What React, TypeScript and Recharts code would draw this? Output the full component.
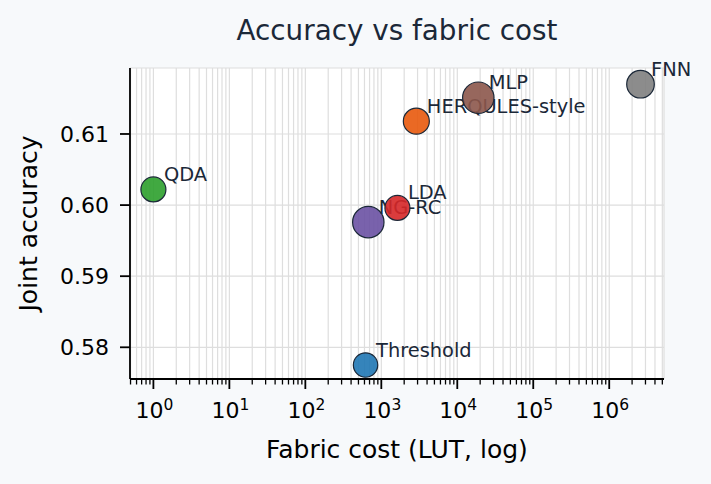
import { ScatterChart, Scatter, XAxis, YAxis, CartesianGrid, Label } from "recharts"

const MODELS = ["Threshold", "QDA", "NG-RC", "LDA", "HERQULES-style", "MLP", "FNN"]
const LUT_COST = [620, 1, 674, 1630, 2890, 18900, 2580000]
const JOINT_ACC = [0.5775, 0.6022, 0.5976, 0.5996, 0.6118, 0.6151, 0.617]

const COLORS = ["#1f77b4", "#2ca02c", "#6a51a3", "#d62728", "#e8590c", "#8c564b", "#7f7f7f"]
const RADIUS = [12.2, 12.5, 15.7, 12.5, 13, 15.7, 13.8]

const MAJOR_X = [1, 10, 100, 1000, 10000, 100000, 1000000]
const X_DOMAIN = [0.492, 5.26e6]
const MINOR_X: number[] = []
;[0.1, ...MAJOR_X].forEach((d) => {
  for (let m = 2; m <= 9; m++) {
    const v = d * m
    if (v > X_DOMAIN[0] && v < X_DOMAIN[1]) MINOR_X.push(v)
  }
})
const Y_TICKS = [0.58, 0.59, 0.6, 0.61]

const INK = "#1b2838"
const FONT = "DejaVu Sans"

const points = MODELS.map((name, i) => ({ name, cost: LUT_COST[i], acc: JOINT_ACC[i] }))

const XTick = (props: any) => {
  const { x, y, payload } = props
  const v = payload.value
  const exp = Math.round(Math.log10(v))
  const major = MAJOR_X.includes(v)
  if (!major) {
    return <line x1={x} x2={x} y1={y} y2={y + 5.5} stroke="#000" strokeWidth={1.3} />
  }
  return (
    <g>
      <line x1={x} x2={x} y1={y} y2={y + 10} stroke="#000" strokeWidth={1.8} />
      <text x={x + 1} y={y + 39} textAnchor="middle" fontFamily={FONT} fontSize={22} fill="#000">
        <tspan>10</tspan>
        <tspan dy={-8} fontSize={15.5}>{exp}</tspan>
      </text>
    </g>
  )
}

const YTick = (props: any) => {
  const { x, y, payload } = props
  return (
    <g>
      <line x1={x - 10} x2={x} y1={y} y2={y} stroke="#000" strokeWidth={1.8} />
      <text x={x - 21} y={y + 7.8} textAnchor="end" fontFamily={FONT} fontSize={22} fill="#000">
        {payload.value.toFixed(2)}
      </text>
    </g>
  )
}

const makeShape = (i: number) => (props: any) => {
  const { cx, cy, payload } = props
  return (
    <g>
      <circle cx={cx} cy={cy} r={RADIUS[i]} fill={COLORS[i]} fillOpacity={0.9} stroke={INK} strokeWidth={1.2} />
      <text x={cx + 10.5} y={cy - 8.5} fontFamily={FONT} fontSize={19.4} fill={INK}>
        {payload.name}
      </text>
    </g>
  )
}

export default function App() {
  return (
    <div style={{ position: "absolute", left: 0, top: 0, width: 711, height: 484, background: "#f7f9fb" }}>
      <div
        style={{
          position: "absolute",
          left: 0,
          width: 794,
          top: 13,
          textAlign: "center",
          fontFamily: FONT,
          fontSize: 27.8,
          color: INK,
          lineHeight: "36px",
        }}
      >
        Accuracy vs fabric cost
      </div>
      <ScatterChart
        width={711}
        height={484}
        margin={{ top: 68, right: 47, bottom: 0, left: 0 }}
        style={{ overflow: "visible" }}
      >
        <CartesianGrid fill="#ffffff" stroke="#dedede" strokeWidth={1.2} />
        <XAxis
          type="number"
          dataKey="cost"
          scale="log"
          domain={X_DOMAIN}
          ticks={[...MAJOR_X, ...MINOR_X].sort((a, b) => a - b)}
          interval={0}
          height={105}
          tickSize={0}
          tickMargin={0}
          tickLine={false}
          axisLine={{ stroke: "#000", strokeWidth: 1.8 }}
          tick={<XTick />}
        >
          <Label
            value="Fabric cost (LUT, log)"
            position="insideBottom"
            offset={26}
            style={{ fontFamily: FONT, fontSize: 25, fill: "#000" }}
          />
        </XAxis>
        <YAxis
          type="number"
          dataKey="acc"
          domain={[0.57554, 0.61928]}
          ticks={Y_TICKS}
          interval={0}
          width={130}
          tickSize={0}
          tickMargin={0}
          tickLine={false}
          axisLine={{ stroke: "#000", strokeWidth: 1.8 }}
          tick={<YTick />}
        >
          <Label
            value="Joint accuracy"
            angle={-90}
            position="insideLeft"
            offset={28}
            style={{ fontFamily: FONT, fontSize: 25, fill: "#000", textAnchor: "middle" }}
          />
        </YAxis>
        {points.map((p, i) => (
          <Scatter key={p.name} data={[p]} shape={makeShape(i)} isAnimationActive={false} />
        ))}
      </ScatterChart>
    </div>
  )
}
